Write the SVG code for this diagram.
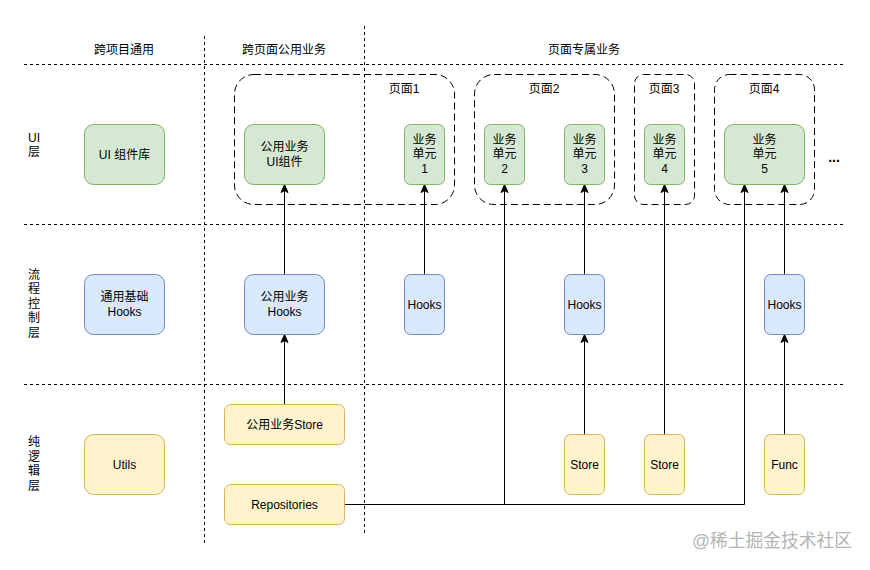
<svg xmlns="http://www.w3.org/2000/svg" width="870" height="570" viewBox="0 0 870 570">
<style>
  text { font-family: "Liberation Sans", "Noto Sans CJK SC", sans-serif; font-size: 12px; fill: #000; }
  .c { text-anchor: middle; }
  .grid { stroke: #000; stroke-width: 1; stroke-dasharray: 3 3; fill: none; }
  .grp { stroke: #000; stroke-width: 1; stroke-dasharray: 7 4; fill: none; }
  .g { fill: #d5e8d4; stroke: #82b366; stroke-width: 1; }
  .b { fill: #dae8fc; stroke: #6c8ebf; stroke-width: 1; }
  .y { fill: #fff2cc; stroke: #d6b656; stroke-width: 1; }
  .e { fill: none; stroke: #000; stroke-width: 1; }
  .wm { font-size: 18px; fill: #b4b4b4; }
</style>
<defs>
  <marker id="arr" viewBox="-9 -5 10 10" refX="0" refY="0" markerWidth="10" markerHeight="10" markerUnits="userSpaceOnUse" orient="auto">
    <path d="M0,0 L-8,-3.5 L-6,0 L-8,3.5 Z" fill="#000" stroke="#000" stroke-width="1"/>
  </marker>
</defs>
<rect x="0" y="0" width="870" height="570" fill="#fff"/>

<g id="grid">
  <line class="grid" x1="24" y1="64.5" x2="844" y2="64.5"/>
  <line class="grid" x1="24" y1="224.5" x2="844" y2="224.5"/>
  <line class="grid" x1="24" y1="384.5" x2="844" y2="384.5"/>
  <line class="grid" x1="204.5" y1="36" x2="204.5" y2="545"/>
  <line class="grid" x1="364.5" y1="26" x2="364.5" y2="535"/>
</g>

<g id="headers">
  <text class="c" x="124" y="53.5">跨项目通用</text>
  <text class="c" x="284" y="53.5">跨页面公用业务</text>
  <text class="c" x="584" y="53.5">页面专属业务</text>
</g>

<g id="row-labels">
  <text x="28" y="141.5">UI</text>
  <text x="28" y="156">层</text>
  <text x="28" y="278.5">流</text>
  <text x="28" y="293">程</text>
  <text x="28" y="307.5">控</text>
  <text x="28" y="322">制</text>
  <text x="28" y="336.5">层</text>
  <text x="28" y="446">纯</text>
  <text x="28" y="460.5">逻</text>
  <text x="28" y="475">辑</text>
  <text x="28" y="489.5">层</text>
</g>

<g id="page-groups">
  <g id="page1-group"><rect class="grp" x="234.5" y="74.5" width="220" height="130" rx="19.5"/><text class="c" x="404" y="93">页面1</text></g>
  <g id="page2-group"><rect class="grp" x="474.5" y="74.5" width="140" height="130" rx="19.5"/><text class="c" x="544" y="93">页面2</text></g>
  <g id="page3-group"><rect class="grp" x="634.5" y="74.5" width="60" height="130" rx="9"/><text class="c" x="664" y="93">页面3</text></g>
  <g id="page4-group"><rect class="grp" x="714.5" y="74.5" width="100" height="130" rx="15"/><text class="c" x="764" y="93">页面4</text></g>
</g>

<g id="connectors">
  <path class="e" d="M284.5,404 V334.5" marker-end="url(#arr)"/>
  <path class="e" d="M284.5,274 V184.5" marker-end="url(#arr)"/>
  <path class="e" d="M424.5,274 V184.5" marker-end="url(#arr)"/>
  <path class="e" d="M584.5,274 V184.5" marker-end="url(#arr)"/>
  <path class="e" d="M584.5,434 V334.5" marker-end="url(#arr)"/>
  <path class="e" d="M664.5,434 V184.5" marker-end="url(#arr)"/>
  <path class="e" d="M784.5,434 V334.5" marker-end="url(#arr)"/>
  <path class="e" d="M784.5,274 V184.5" marker-end="url(#arr)"/>
  <path class="e" d="M344,504.5 H504.5 V184.5" marker-end="url(#arr)"/>
  <path class="e" d="M344,504.5 H744.5 V184.5" marker-end="url(#arr)"/>
</g>

<g id="ui-lib"><rect class="g" x="84.5" y="124.5" width="80" height="60" rx="9"/><text class="c" x="124.5" y="158.5">UI 组件库</text></g>
<g id="common-ui"><rect class="g" x="244.5" y="124.5" width="80" height="60" rx="9"/><text class="c" x="284.5" y="151">公用业务</text><text class="c" x="284.5" y="165.5">UI组件</text></g>
<g id="unit1"><rect class="g" x="404.5" y="124.5" width="40" height="60" rx="6"/><text class="c" x="424.5" y="143.5">业务</text><text class="c" x="424.5" y="158">单元</text><text class="c" x="424.5" y="172.5">1</text></g>
<g id="unit2"><rect class="g" x="484.5" y="124.5" width="40" height="60" rx="6"/><text class="c" x="504.5" y="143.5">业务</text><text class="c" x="504.5" y="158">单元</text><text class="c" x="504.5" y="172.5">2</text></g>
<g id="unit3"><rect class="g" x="564.5" y="124.5" width="40" height="60" rx="6"/><text class="c" x="584.5" y="143.5">业务</text><text class="c" x="584.5" y="158">单元</text><text class="c" x="584.5" y="172.5">3</text></g>
<g id="unit4"><rect class="g" x="644.5" y="124.5" width="40" height="60" rx="6"/><text class="c" x="664.5" y="143.5">业务</text><text class="c" x="664.5" y="158">单元</text><text class="c" x="664.5" y="172.5">4</text></g>
<g id="unit5"><rect class="g" x="724.5" y="124.5" width="80" height="60" rx="9"/><text class="c" x="764.5" y="143.5">业务</text><text class="c" x="764.5" y="158">单元</text><text class="c" x="764.5" y="172.5">5</text></g>
<g id="more"><text class="c" x="834" y="162" style="font-weight:bold;font-size:14px">...</text></g>

<g id="base-hooks"><rect class="b" x="84.5" y="274.5" width="80" height="60" rx="9"/><text class="c" x="124.5" y="301">通用基础</text><text class="c" x="124.5" y="315.5">Hooks</text></g>
<g id="common-hooks"><rect class="b" x="244.5" y="274.5" width="80" height="60" rx="9"/><text class="c" x="284.5" y="301">公用业务</text><text class="c" x="284.5" y="315.5">Hooks</text></g>
<g id="hooks1"><rect class="b" x="404.5" y="274.5" width="40" height="60" rx="6"/><text class="c" x="424.5" y="308.5">Hooks</text></g>
<g id="hooks3"><rect class="b" x="564.5" y="274.5" width="40" height="60" rx="6"/><text class="c" x="584.5" y="308.5">Hooks</text></g>
<g id="hooks5"><rect class="b" x="764.5" y="274.5" width="40" height="60" rx="6"/><text class="c" x="784.5" y="308.5">Hooks</text></g>

<g id="common-store"><rect class="y" x="224.5" y="404.5" width="120" height="40" rx="6"/><text class="c" x="284.5" y="428.5">公用业务Store</text></g>
<g id="repositories"><rect class="y" x="224.5" y="484.5" width="120" height="40" rx="6"/><text class="c" x="284.5" y="508.5">Repositories</text></g>
<g id="utils"><rect class="y" x="84.5" y="434.5" width="80" height="60" rx="9"/><text class="c" x="124.5" y="468.5">Utils</text></g>
<g id="store3"><rect class="y" x="564.5" y="434.5" width="40" height="60" rx="6"/><text class="c" x="584.5" y="468.5">Store</text></g>
<g id="store4"><rect class="y" x="644.5" y="434.5" width="40" height="60" rx="6"/><text class="c" x="664.5" y="468.5">Store</text></g>
<g id="func"><rect class="y" x="764.5" y="434.5" width="40" height="60" rx="6"/><text class="c" x="784.5" y="468.5">Func</text></g>

<g id="watermark"><text class="wm" x="692" y="547" textLength="160" lengthAdjust="spacingAndGlyphs">@稀土掘金技术社区</text></g>
</svg>
